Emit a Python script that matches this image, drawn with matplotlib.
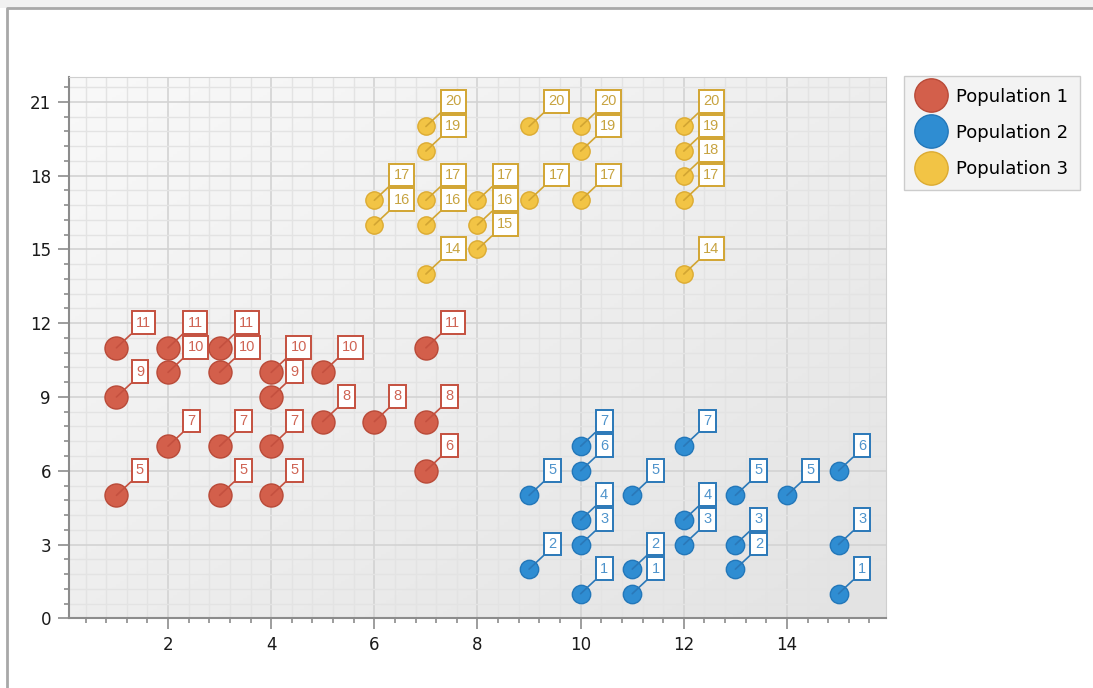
import numpy as np
import matplotlib
matplotlib.use("Agg")
import matplotlib.pyplot as plt
from matplotlib.lines import Line2D
from matplotlib.ticker import MultipleLocator

# series data: x, y (label shows the y value)
pop1_x = [1, 1, 1, 2, 2, 2, 3, 3, 3, 3, 4, 4, 4, 4, 5, 5, 6, 7, 7, 7]
pop1_y = [11, 9, 5, 11, 10, 7, 11, 10, 7, 5, 10, 9, 7, 5, 10, 8, 8, 11, 8, 6]

pop2_x = [9, 9, 10, 10, 10, 10, 10, 11, 11, 11, 12, 12, 12, 13, 13, 13, 14, 15, 15, 15]
pop2_y = [5, 2, 7, 6, 4, 3, 1, 5, 2, 1, 7, 4, 3, 5, 3, 2, 5, 6, 3, 1]

pop3_x = [6, 6, 7, 7, 7, 7, 7, 8, 8, 8, 9, 9, 10, 10, 10, 12, 12, 12, 12, 12]
pop3_y = [17, 16, 20, 19, 17, 16, 14, 17, 16, 15, 20, 17, 20, 19, 17, 20, 19, 18, 17, 14]

series_names = ["Population 1", "Population 2", "Population 3"]

W, H = 1093, 688
fig = plt.figure(figsize=(W / 100, H / 100), dpi=100)
plt.rcParams['font.family'] = ['DejaVu Sans']

# outer frame like the control border
fig.patches.append(plt.Rectangle((0, 1 - 8 / H), 1, 8 / H, transform=fig.transFigure,
                                 facecolor="#f1f1f1", edgecolor="none", zorder=0))
fig.add_artist(Line2D([7 / W, 7 / W, 1], [0, 1 - 8 / H, 1 - 8 / H],
                      transform=fig.transFigure, color="#a8a8a8", lw=2))

ax = fig.add_axes([69 / W, 1 - 618.3 / H, (886 - 69) / W, (618.3 - 77.3) / H])

# soft diagonal gradient background
gx, gy = np.meshgrid(np.linspace(0, 1, 200), np.linspace(0, 1, 200))
grad = 249 - 22 * (gx + gy) / 2
ax.imshow(np.dstack([grad, grad, grad]).astype(np.uint8), extent=(0, 1, 0, 1),
          transform=ax.transAxes, aspect="auto", zorder=-1, interpolation="bilinear")
ax.set_axisbelow(True)

ax.set_xlim(0.08, 15.92)
ax.set_ylim(0, 22)
ax.xaxis.set_major_locator(MultipleLocator(2))
ax.xaxis.set_minor_locator(MultipleLocator(0.4))
ax.yaxis.set_major_locator(MultipleLocator(3))
ax.yaxis.set_minor_locator(MultipleLocator(0.6))
ax.grid(which="major", color="#d3d3d3", lw=1.2)
ax.grid(which="minor", color="#e3e3e3", lw=1.0)

for side in ["left", "bottom"]:
    ax.spines[side].set_color("#8c8c8c")
    ax.spines[side].set_linewidth(1.5)
for side in ["top", "right"]:
    ax.spines[side].set_color("#cfcfcf")
ax.tick_params(which="major", length=8, width=1.2, color="#8c8c8c", labelsize=12, pad=5,
               labelcolor="#1a1a1a")
ax.tick_params(which="minor", length=3.5, width=1.2, color="#8c8c8c")

styles = [
    (pop1_x, pop1_y, "#d35f4b", "#b94a38", 275, "#cf6454", "#c4503f"),
    (pop2_x, pop2_y, "#2f8dd2", "#2377b9", 175, "#4e93cb", "#2a78b8"),
    (pop3_x, pop3_y, "#f2c445", "#dcab32", 155, "#c7a340", "#d2a532"),
]

for (xs, ys, face, edge, size, tcol, bcol), name in zip(styles, series_names):
    ax.scatter(xs, ys, s=size, color=face, edgecolors=edge, linewidths=1, zorder=3)
    order = np.argsort(ys)[::-1]
    for i in order:
        ax.annotate(str(ys[i]), (xs[i], ys[i]), xytext=(14.0, 13.1),
                    textcoords="offset points", ha="left", va="bottom",
                    fontsize=10.5, family="Liberation Sans", color=tcol, zorder=4,
                    bbox=dict(boxstyle="square,pad=0.3", fc="white", ec=bcol, lw=1.4),
                    arrowprops=dict(arrowstyle="-", color=bcol, lw=1.2,
                                    relpos=(0, 0), shrinkA=0, shrinkB=0))

handles = [Line2D([], [], ls="none", marker="o", markersize=24,
                  markerfacecolor=s[2], markeredgecolor=s[3]) for s in styles]
fig.legend(handles, series_names, loc="upper left", bbox_to_anchor=(904 / W, 1 - 76 / H),
           bbox_transform=fig.transFigure, borderaxespad=0, fontsize=13,
           frameon=True, fancybox=False, facecolor="#f3f3f3", edgecolor="#cccccc",
           framealpha=1, borderpad=0.65, labelspacing=1.0, handlelength=1.7,
           handletextpad=0.55)

fig.savefig("out.png", dpi=100)
